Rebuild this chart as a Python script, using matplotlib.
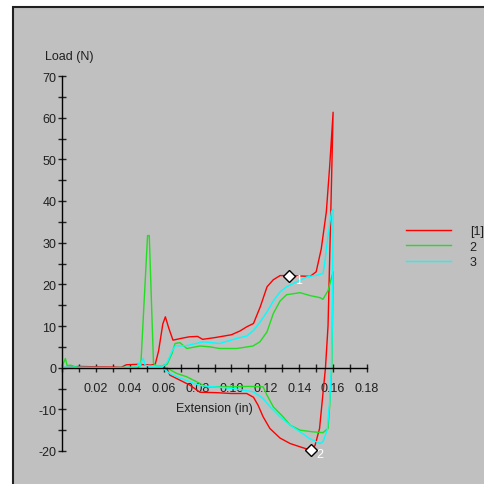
import numpy as np
import matplotlib
matplotlib.use('Agg')
import matplotlib.pyplot as plt
from matplotlib.patches import Rectangle
from matplotlib.ticker import MultipleLocator, FixedLocator, FixedFormatter

plt.rcParams['font.family'] = ['Liberation Sans', 'DejaVu Sans']
plt.rcParams['axes.unicode_minus'] = False

# load-extension traces: loading branch (up) and return branch (down)
red_up_x = [0, 0.005, 0.01, 0.02, 0.035, 0.038, 0.045, 0.052, 0.055, 0.057, 0.0595, 0.061,
            0.063, 0.0655, 0.07, 0.075, 0.08, 0.083, 0.09, 0.1, 0.105, 0.109, 0.113, 0.117,
            0.121, 0.1247, 0.1287, 0.134, 0.1405, 0.1464, 0.15, 0.153, 0.156, 0.158, 0.160]
red_up_y = [0, 0.1, 0.3, 0.2, 0.1, 0.7, 0.8, 0.6, 0.8, 4, 10.5, 12.2,
            9.5, 6.6, 7.0, 7.4, 7.5, 6.8, 7.2, 7.9, 8.8, 9.8, 10.6, 14.6,
            19.4, 21.1, 22.1, 22.1, 22.0, 21.9, 23, 28.5, 37.4, 48.5, 61.3]
red_dn_x = [0.160, 0.1585, 0.157, 0.1555, 0.152, 0.1493, 0.1467, 0.1405, 0.1346, 0.1287,
            0.1227, 0.1187, 0.1157, 0.113, 0.109, 0.1, 0.0913, 0.0814, 0.0755, 0.0696,
            0.0637, 0.062, 0.06]
red_dn_y = [61.3, 35, 10, 0, -14.6, -18.7, -19.8, -19.0, -18.2, -16.9,
            -14.6, -11.8, -9.0, -7.1, -6.2, -6.2, -6.0, -5.9, -4.2, -3.0,
            -1.8, -0.3, 0]

green_up_x = [0, 0.001, 0.002, 0.003, 0.005, 0.008, 0.01, 0.03, 0.045, 0.0465, 0.0505, 0.0515,
              0.054, 0.056, 0.06, 0.062, 0.065, 0.0667, 0.0696, 0.0737, 0.0814, 0.0873, 0.093,
              0.1031, 0.1127, 0.1168, 0.121, 0.1247, 0.1287, 0.1325, 0.1405, 0.1464, 0.1523,
              0.154, 0.157, 0.160]
green_up_y = [0.5, 1.2, 2.2, 0.5, 0.6, 0.2, 0, 0, 0.1, 0.5, 31.7, 31.7,
              1.0, 0.4, 0.5, 0.8, 3.5, 5.8, 6.0, 4.6, 5.2, 5.0, 4.6,
              4.6, 5.2, 6.2, 8.6, 13, 16, 17.5, 18, 17.3, 16.8,
              16.4, 18.5, 23]
green_dn_x = [0.160, 0.1595, 0.1592, 0.158, 0.157, 0.154, 0.148, 0.1405, 0.1346, 0.1305,
              0.1247, 0.121, 0.1187, 0.110, 0.100, 0.090, 0.085, 0.0814, 0.0737, 0.0678,
              0.0637, 0.062]
green_dn_y = [23, 8, 0, -9, -14.6, -15.6, -15.4, -15.0, -13.8, -11.8,
              -9.4, -6.6, -4.6, -4.5, -4.6, -4.6, -4.6, -3.8, -2.2, -1.4,
              -0.5, 0]

cyan_up_x = [0, 0.01, 0.03, 0.044, 0.0455, 0.046, 0.047, 0.048, 0.049, 0.050, 0.052, 0.06,
             0.062, 0.065, 0.067, 0.0696, 0.0737, 0.0832, 0.093, 0.103, 0.109, 0.113, 0.117,
             0.121, 0.1247, 0.1287, 0.1325, 0.1385, 0.1446, 0.1505, 0.154, 0.155, 0.1568,
             0.159, 0.160]
cyan_up_y = [0.1, 0.1, 0, 0.1, 1.2, 0.3, 1.5, 2.2, 0.6, 0.5, 0.4, 0.4,
             1.2, 4.0, 5.3, 5.2, 5.3, 6.2, 5.8, 7.0, 7.6, 8.9, 11,
             13.4, 16, 18.2, 19.4, 20.6, 21.8, 22.2, 22.6, 25, 31,
             37.4, 38]
cyan_dn_x = [0.160, 0.1595, 0.159, 0.158, 0.1565, 0.154, 0.1523, 0.146, 0.1405, 0.1346,
             0.1287, 0.1228, 0.1187, 0.113, 0.101, 0.0814, 0.0737, 0.0678, 0.0637, 0.0596]
cyan_dn_y = [38, 10, 0, -8, -15, -17.8, -18.2, -17, -15.4, -13.8,
             -11.8, -9.4, -7.4, -5.8, -5.0, -4.3, -3.1, -2.2, -1.4, -0.2]

series_names = ['[1]', '2', '3']
series_colors = ['#ff0000', '#22dd22', '#00ffff']

# marked points on the red trace
mark_x = [0.134, 0.1467]
mark_y = [22.1, -19.8]
mark_labels = ['1', '2']

xtick_vals = [0.02, 0.04, 0.06, 0.08, 0.10, 0.12, 0.14, 0.16, 0.18]
xtick_text = ['0.02', '0.04', '0.06', '0.08', '0.10', '0.12', '0.14', '0.16', '0.18']

W = H = 485
fig = plt.figure(figsize=(W / 100, H / 100), dpi=100, facecolor='white')
fig.add_artist(Rectangle((13 / W, -0.01), 1.0, 1 - 8 / H + 0.01, transform=fig.transFigure,
                         facecolor='#c0c0c0', edgecolor='#202020', linewidth=1.5, zorder=-10))

ax = fig.add_axes([62 / W, 1 - 452 / H, 305 / W, 375 / H])
ax.set_facecolor('none')
ax.set_xlim(0, 0.18)
ax.set_ylim(-20, 70)

ups = [(red_up_x, red_up_y), (green_up_x, green_up_y), (cyan_up_x, cyan_up_y)]
dns = [(red_dn_x, red_dn_y), (green_dn_x, green_dn_y), (cyan_dn_x, cyan_dn_y)]
for (ux, uy), (dx, dy), name, col in zip(ups, dns, series_names, series_colors):
    ax.plot(ux + dx, uy + dy, color=col, lw=1.0, label=name, clip_on=False)

ax.plot(mark_x, mark_y, ls='none', marker='D', ms=6.5, mfc='white', mec='black', mew=1.0,
        zorder=5, clip_on=False)
for mx, my, lab in zip(mark_x, mark_y, mark_labels):
    ax.annotate(lab, (mx, my), xytext=(4, -3), textcoords='offset points', color='white',
                fontsize=9, va='center', ha='left', zorder=6)

for s in ['top', 'right']:
    ax.spines[s].set_visible(False)
ax.spines['bottom'].set_position(('data', 0))
ax.spines['left'].set_linewidth(1.0)
ax.spines['bottom'].set_linewidth(1.0)

ax.xaxis.set_major_locator(FixedLocator(xtick_vals))
ax.xaxis.set_major_formatter(FixedFormatter(xtick_text))
ax.xaxis.set_minor_locator(MultipleLocator(0.01))
ax.yaxis.set_major_locator(MultipleLocator(10))
ax.yaxis.set_minor_locator(MultipleLocator(5))
ax.tick_params(which='both', direction='inout', length=6, width=1.0, color='#202020',
               labelsize=9, labelcolor='#202020')
ax.tick_params(axis='x', pad=7)
ax.tick_params(axis='y', pad=1)

fig.text(214 / W, 1 - 409 / H, 'Extension (in)', ha='center', va='center', fontsize=9,
         color='#202020')
fig.text(45 / W, 1 - 57 / H, 'Load (N)', ha='left', va='center', fontsize=9, color='#202020')

ax.legend(loc='upper left', bbox_to_anchor=(406 / W, 1 - 226 / H),
          bbox_transform=fig.transFigure, frameon=False, fontsize=9, handlelength=3.6,
          handletextpad=1.5, labelspacing=0.3, borderpad=0, borderaxespad=0,
          labelcolor='#202020', markerfirst=True)

fig.savefig('out.png', dpi=100, facecolor='white')
